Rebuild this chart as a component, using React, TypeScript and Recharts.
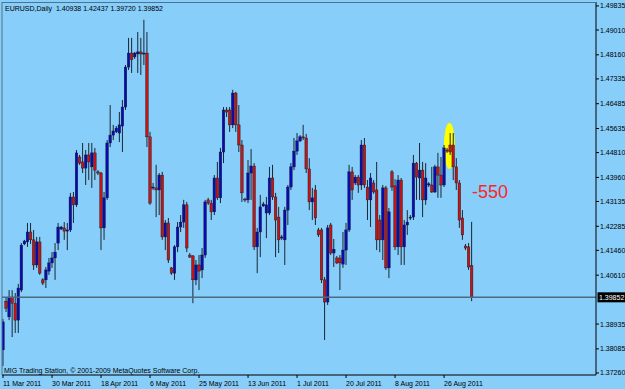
import React from "react";
import { ComposedChart, Bar, XAxis, YAxis, ReferenceLine } from "recharts";

// EURUSD daily bars, 11 Mar 2011 .. 6 Sep 2011 (broker feed incl. Sunday bars)
const opens = [
  1.3805, 1.3972, 1.3918, 1.3986, 1.3965, 1.3907, 1.4010, 1.4168, 1.4175, 1.4209,
  1.4182, 1.4096, 1.4175, 1.4045, 1.4045, 1.4075, 1.4103, 1.4120, 1.4171, 1.4219,
  1.4223, 1.4212, 1.4216, 1.4329, 1.4302, 1.4466, 1.4449, 1.4428, 1.4473, 1.4432,
  1.4480, 1.4415, 1.4411, 1.4223, 1.4326, 1.4514, 1.4541, 1.4552, 1.4548, 1.4572,
  1.4637, 1.4774, 1.4822, 1.4809, 1.4819, 1.4826, 1.4819, 1.4822, 1.4535, 1.4360,
  1.4360, 1.4353, 1.4404, 1.4192, 1.4240, 1.4086, 1.4068, 1.4158, 1.4226, 1.4243,
  1.4302, 1.4130, 1.4127, 1.4045, 1.4096, 1.4079, 1.4130, 1.4319, 1.4308, 1.4278,
  1.4394, 1.4326, 1.4483, 1.4627, 1.4627, 1.4576, 1.4685, 1.4576, 1.4507, 1.4322,
  1.4319, 1.4411, 1.4435, 1.4158, 1.4209, 1.4298, 1.4274, 1.4274, 1.4394, 1.4329,
  1.4260, 1.4188, 1.4182, 1.4284, 1.4363, 1.4432, 1.4486, 1.4521, 1.4535, 1.4531,
  1.4425, 1.4312, 1.4353, 1.4216, 1.4216, 1.4045, 1.3969, 1.4233, 1.4137, 1.4120,
  1.4120, 1.4099, 1.4147, 1.4216, 1.4415, 1.4377, 1.4397, 1.4370, 1.4507, 1.4363,
  1.4319, 1.4377, 1.4353, 1.4250, 1.4182, 1.4360, 1.4086, 1.4415, 1.4367, 1.4158,
  1.4387, 1.4158, 1.4233, 1.4257, 1.4260, 1.4445, 1.4394, 1.4421, 1.4319, 1.4370,
  1.4370, 1.4346, 1.4432, 1.4404, 1.4370, 1.4490, 1.4507, 1.4507, 1.4432, 1.4377,
  1.4257, 1.4161, 1.4158, 1.40938,
];
const highs = [
  1.3911, 1.3986, 1.4010, 1.4010, 1.4000, 1.4031, 1.4171, 1.4182, 1.4240, 1.4240,
  1.4216, 1.4192, 1.4192, 1.4051, 1.4089, 1.4120, 1.4140, 1.4171, 1.4240, 1.4230,
  1.4243, 1.4240, 1.4343, 1.4346, 1.4490, 1.4473, 1.4514, 1.4490, 1.4514, 1.4514,
  1.4497, 1.4421, 1.4415, 1.4346, 1.4524, 1.4644, 1.4576, 1.4572, 1.4620, 1.4661,
  1.4781, 1.4874, 1.4874, 1.4826, 1.4894, 1.4874, 1.4936, 1.4894, 1.4552, 1.4377,
  1.4439, 1.4411, 1.4415, 1.4250, 1.4257, 1.4089, 1.4164, 1.4243, 1.4267, 1.4319,
  1.4312, 1.4137, 1.4130, 1.4113, 1.4130, 1.4154, 1.4319, 1.4326, 1.4319, 1.4404,
  1.4449, 1.4497, 1.4637, 1.4637, 1.4637, 1.4696, 1.4689, 1.4644, 1.4524, 1.4326,
  1.4456, 1.4493, 1.4445, 1.4223, 1.4336, 1.4312, 1.4329, 1.4432, 1.4439, 1.4343,
  1.4295, 1.4199, 1.4295, 1.4370, 1.4445, 1.4531, 1.4548, 1.4541, 1.4576, 1.4545,
  1.4462, 1.4360, 1.4370, 1.4223, 1.4223, 1.4055, 1.4233, 1.4240, 1.4185, 1.4127,
  1.4130, 1.4209, 1.4240, 1.4439, 1.4432, 1.4404, 1.4404, 1.4524, 1.4531, 1.4387,
  1.4411, 1.4387, 1.4449, 1.4267, 1.4370, 1.4367, 1.4291, 1.4421, 1.4390, 1.4404,
  1.4394, 1.4250, 1.4284, 1.4267, 1.4473, 1.4449, 1.4514, 1.4449, 1.4445, 1.4380,
  1.4432, 1.4439, 1.4480, 1.4466, 1.4507, 1.4497, 1.4548, 1.4548, 1.4462, 1.4387,
  1.4284, 1.4168, 1.4171, 1.42437,
];
const lows = [
  1.3750, 1.3935, 1.3907, 1.3849, 1.3863, 1.3863, 1.4003, 1.4164, 1.4158, 1.4168,
  1.4079, 1.4086, 1.4062, 1.4027, 1.4017, 1.4062, 1.4086, 1.4045, 1.4147, 1.4216,
  1.4182, 1.4147, 1.4209, 1.4240, 1.4295, 1.4439, 1.4411, 1.4370, 1.4387, 1.4360,
  1.4387, 1.4404, 1.4147, 1.4182, 1.4319, 1.4500, 1.4524, 1.4548, 1.4517, 1.4483,
  1.4627, 1.4764, 1.4754, 1.4802, 1.4754, 1.4747, 1.4781, 1.4500, 1.4302, 1.4353,
  1.4260, 1.4267, 1.4182, 1.4147, 1.4103, 1.4062, 1.4045, 1.4140, 1.4209, 1.4223,
  1.4140, 1.4120, 1.3965, 1.4027, 1.4010, 1.4051, 1.4120, 1.4302, 1.4250, 1.4267,
  1.4319, 1.4308, 1.4445, 1.4603, 1.4552, 1.4565, 1.4552, 1.4483, 1.4312, 1.4312,
  1.4308, 1.4319, 1.4147, 1.4068, 1.4123, 1.4295, 1.4188, 1.4267, 1.4319, 1.4123,
  1.4137, 1.4182, 1.4096, 1.4233, 1.4353, 1.4421, 1.4473, 1.4517, 1.4524, 1.4411,
  1.4284, 1.4250, 1.4233, 1.4192, 1.4034, 1.3839, 1.3959, 1.4130, 1.4089, 1.4099,
  1.4010, 1.4086, 1.4096, 1.4209, 1.4319, 1.4370, 1.4343, 1.4353, 1.4360, 1.4250,
  1.4226, 1.4340, 1.4147, 1.4140, 1.4113, 1.4079, 1.4051, 1.4350, 1.4147, 1.4130,
  1.4096, 1.4096, 1.4199, 1.4250, 1.4250, 1.4319, 1.4319, 1.4260, 1.4302, 1.4363,
  1.4343, 1.4343, 1.4326, 1.4326, 1.4363, 1.4480, 1.4473, 1.4387, 1.4353, 1.4223,
  1.4182, 1.4147, 1.4079, 1.39720,
];
const closes = [
  1.3901, 1.3948, 1.3986, 1.3965, 1.3907, 1.4017, 1.4164, 1.4178, 1.4209, 1.4182,
  1.4096, 1.4175, 1.4068, 1.4034, 1.4079, 1.4103, 1.4120, 1.4140, 1.4226, 1.4226,
  1.4212, 1.4216, 1.4329, 1.4302, 1.4480, 1.4445, 1.4428, 1.4473, 1.4449, 1.4480,
  1.4421, 1.4411, 1.4223, 1.4326, 1.4514, 1.4541, 1.4555, 1.4565, 1.4576, 1.4637,
  1.4774, 1.4822, 1.4799, 1.4822, 1.4826, 1.4819, 1.4822, 1.4535, 1.4308, 1.4363,
  1.4353, 1.4404, 1.4192, 1.4240, 1.4113, 1.4068, 1.4158, 1.4226, 1.4243, 1.4302,
  1.4154, 1.4123, 1.4045, 1.4096, 1.4075, 1.4130, 1.4312, 1.4308, 1.4278, 1.4394,
  1.4326, 1.4483, 1.4627, 1.4620, 1.4576, 1.4685, 1.4576, 1.4507, 1.4343, 1.4319,
  1.4411, 1.4435, 1.4158, 1.4209, 1.4295, 1.4305, 1.4302, 1.4394, 1.4329, 1.4250,
  1.4182, 1.4192, 1.4284, 1.4363, 1.4432, 1.4486, 1.4521, 1.4535, 1.4531, 1.4425,
  1.4312, 1.4326, 1.4257, 1.4199, 1.4045, 1.3969, 1.4223, 1.4137, 1.4150, 1.4103,
  1.4103, 1.4147, 1.4216, 1.4415, 1.4353, 1.4397, 1.4370, 1.4507, 1.4370, 1.4319,
  1.4394, 1.4346, 1.4182, 1.4182, 1.4360, 1.4086, 1.4278, 1.4363, 1.4158, 1.4387,
  1.4158, 1.4233, 1.4243, 1.4260, 1.4445, 1.4397, 1.4421, 1.4319, 1.4394, 1.4374,
  1.4346, 1.4432, 1.4404, 1.4370, 1.4497, 1.4486, 1.4483, 1.4432, 1.4377, 1.4250,
  1.4199, 1.4154, 1.4089, 1.39852,
];

const dateTicks = [0, 16, 32, 48, 64, 80, 96, 112, 128, 144];
const dateLabels = [
  "11 Mar 2011", "30 Mar 2011", "18 Apr 2011", "6 May 2011", "25 May 2011",
  "13 Jun 2011", "1 Jul 2011", "20 Jul 2011", "8 Aug 2011", "26 Aug 2011",
];
const priceTicks = [
  1.49835, 1.4901, 1.4816, 1.47335, 1.46485, 1.45635, 1.4481, 1.4396,
  1.43135, 1.42285, 1.4146, 1.4061, 1.38935, 1.38085, 1.3726,
];
const lastPrice = 1.39852;
// yellow highlight around the late-August top (bar index, price span)
const highlightBar = 146;
const highlightSpan = [1.4425, 1.4583];

const data = opens.map((o, i) => ({
  i,
  open: o,
  high: highs[i],
  low: lows[i],
  close: closes[i],
  range: [lows[i], highs[i]],
  halo: i === highlightBar ? highlightSpan : null,
}));

const BG = "#87cefa";
const FONT = "'Liberation Sans', Arial, sans-serif";
const DOMAIN_X: [number, number] = [-0.33, 193.6];

function Candle(props: any) {
  const { x, y, width, height, payload } = props;
  if (x == null || !payload) return null;
  const top = Math.min(y, y + height);
  const bot = Math.max(y, y + height);
  const span = payload.high - payload.low || 1;
  const toY = (v: number) => top + ((payload.high - v) / span) * (bot - top);
  const cx = x + width / 2;
  const yo = toY(payload.open);
  const yc = toY(payload.close);
  const up = payload.close >= payload.open;
  const bt = Math.min(yo, yc);
  const bh = Math.max(1, Math.abs(yo - yc));
  return (
    <g>
      <line x1={cx} x2={cx} y1={top} y2={bot} stroke="#1b2733" strokeWidth={1} />
      <rect x={cx - 1.3} y={bt} width={2.6} height={bh} fill={up ? "#0b0bb0" : "#c41414"} stroke="#111a22" strokeWidth={0.4} />
    </g>
  );
}

function Halo(props: any) {
  const { x, y, width, height, payload } = props;
  if (x == null || !payload || !payload.halo) return null;
  const top = Math.min(y, y + height);
  const h = Math.abs(height);
  return <ellipse cx={x + width / 2 - 0.6} cy={top + h / 2} rx={5.5} ry={h / 2} fill="#ffff00" stroke="none" />;
}

function DateTick(props: any) {
  const { x, y, payload } = props;
  const k = dateTicks.indexOf(payload.value);
  return (
    <text x={x} y={y + 8} fontSize={7} fontFamily={FONT} fill="#000" textAnchor="start">
      {k >= 0 ? dateLabels[k] : ""}
    </text>
  );
}

function PriceTag(props: any) {
  const vb = props.viewBox || {};
  const right = (vb.x ?? 0) + (vb.width ?? 0);
  return (
    <g>
      <rect x={right + 1.5} y={vb.y - 5} width={28} height={10} fill="#000" />
      <text x={right + 3} y={vb.y + 2.5} fontSize={7} fontFamily={FONT} fill="#fff">
        {lastPrice.toFixed(5)}
      </text>
    </g>
  );
}

export default function App() {
  return (
    <div style={{ position: "relative", width: 625, height: 389, background: BG }}>
      <style>{`body{margin:0;background:${BG}}`}</style>
      <ComposedChart
        width={625}
        height={389}
        data={data}
        margin={{ top: 2, right: 0, bottom: 0, left: 2 }}
        style={{ fontFamily: FONT }}
      >
        <XAxis
          dataKey="i"
          type="number"
          domain={DOMAIN_X}
          allowDataOverflow
          ticks={dateTicks}
          interval={0}
          height={14}
          tickSize={3}
          tickMargin={0}
          axisLine={{ stroke: "#000" }}
          tickLine={{ stroke: "#000" }}
          tick={<DateTick />}
        />
        <XAxis xAxisId="halo" dataKey="i" type="number" domain={DOMAIN_X} allowDataOverflow hide />
        <YAxis
          orientation="right"
          width={29}
          domain={[1.3719, 1.4997]}
          allowDataOverflow
          ticks={priceTicks}
          interval={0}
          tickSize={3}
          tickMargin={1}
          axisLine={{ stroke: "#000" }}
          tickLine={{ stroke: "#000" }}
          tick={{ fontSize: 7, fill: "#000", fontFamily: FONT }}
          tickFormatter={(v: number) => v.toFixed(5)}
        />
        <ReferenceLine y={lastPrice} stroke="#4d6a7e" strokeWidth={1.5} label={<PriceTag />} ifOverflow="visible" />
        <Bar xAxisId="halo" dataKey="halo" barSize={11} shape={<Halo />} isAnimationActive={false} />
        <Bar dataKey="range" barSize={3} shape={<Candle />} isAnimationActive={false} />
      </ComposedChart>
      <svg
        width={625}
        height={389}
        style={{ position: "absolute", left: 0, top: 0, pointerEvents: "none" }}
        fontFamily={FONT}
      >
        <line x1={2} x2={2} y1={2} y2={375} stroke="#4f7389" strokeWidth={1} />
        <line x1={2} x2={596} y1={2.5} y2={2.5} stroke="#4f7389" strokeWidth={1} />
        <text x={5} y={11} fontSize={7} fill="#000">
          {"EURUSD,Daily\u00a0\u00a01.40938 1.42437 1.39720 1.39852"}
        </text>
        <text x={4} y={373} fontSize={7} fill="#000">
          MIG Trading Station, © 2001-2009 MetaQuotes Software Corp.
        </text>
        <text x={472} y={198} fontSize={18} fill="#ff2424">
          -550
        </text>
      </svg>
    </div>
  );
}
